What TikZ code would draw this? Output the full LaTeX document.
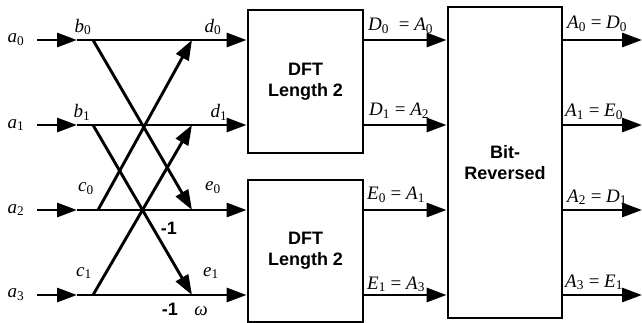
\documentclass[tikz,border=0pt]{standalone}
\usepackage{fontspec}
\setmainfont{Liberation Serif}
\newfontfamily\arialfont{Liberation Sans}
\usetikzlibrary{arrows.meta}
\newcommand{\vr}[2]{\textit{#1}\textsubscript{#2}}
\begin{document}
\begin{tikzpicture}[x=1pt,y=-1pt,
  wire/.style={line width=2.9pt},
  arr/.style={wire,-{Triangle[length=20pt,width=14pt]}},
  box/.style={draw,line width=2.9pt,inner sep=0pt,align=center,
    font=\arialfont\bfseries\fontsize{18}{21}\selectfont},
  lab/.style={font=\fontsize{19}{19}\selectfont,inner sep=0pt},
  blab/.style={font=\arialfont\bfseries\fontsize{18}{18}\selectfont,inner sep=0pt}]
\useasboundingbox (0,0) rectangle (642,323);
% boxes
\node[box,minimum width=115pt,minimum height=143pt] (dft1) at (305.5,81.5) {DFT\\Length 2};
\node[box,minimum width=115pt,minimum height=142pt] (dft2) at (305.5,251) {DFT\\Length 2};
\node[box,minimum width=114pt,minimum height=311pt] (bit) at (505,162.5) {Bit-\\Reversed};
% coordinates
\foreach \i/\y in {0/40,1/125,2/210,3/295} {
  \coordinate (s\i) at (37,\y);
  \coordinate (m\i) at (77,\y);
  \coordinate (r\i) at (642,\y);
}
\coordinate (b0) at (93,40);
\coordinate (b1) at (93,125);
\coordinate (c0) at (98,210);
\coordinate (c1) at (93,295);
\coordinate (d0) at (192,40);
\coordinate (d1) at (192,125);
\coordinate (e0) at (192,210);
\coordinate (e1) at (192,295);
% input lines
\foreach \i in {0,1} {
  \draw[arr] (s\i) -- (m\i);
  \draw[arr] (m\i) -- (s\i -| dft1.west);
}
\foreach \i in {2,3} {
  \draw[arr] (s\i) -- (m\i);
  \draw[arr] (m\i) -- (s\i -| dft2.west);
}
% butterfly diagonals
\draw[arr] (b0) -- (e0);
\draw[arr] (b1) -- (e1);
\draw[arr] (c0) -- (d0);
\draw[arr] (c1) -- (d1);
% DFT outputs
\draw[arr] (s0 -| dft1.east) -- (s0 -| bit.west);
\draw[arr] (s1 -| dft1.east) -- (s1 -| bit.west);
\draw[arr] (s2 -| dft2.east) -- (s2 -| bit.west);
\draw[arr] (s3 -| dft2.east) -- (s3 -| bit.west);
% bit-reversed outputs
\foreach \i in {0,1,2,3} {
  \draw[arr] (s\i -| bit.east) -- (r\i);
}
% labels
\node[lab] (la0) at (16,40) {\vr{a}{0}};
\node[lab] (la1) at (16,125) {\vr{a}{1}};
\node[lab] (la2) at (16,210) {\vr{a}{2}};
\node[lab] (la3) at (16,295) {\vr{a}{3}};
\node[lab] (lb0) at (83,27) {\vr{b}{0}};
\node[lab] (lb1) at (82,112) {\vr{b}{1}};
\node[lab] (lc0) at (86,189) {\vr{c}{0}};
\node[lab] (lc1) at (84,273) {\vr{c}{1}};
\node[lab] (ld0) at (213,27) {\vr{d}{0}};
\node[lab] (ld1) at (219,112) {\vr{d}{1}};
\node[lab] (le0) at (213,188) {\vr{e}{0}};
\node[lab] (le1) at (211,273) {\vr{e}{1}};
\node[blab] (m1a) at (169,228) {-1};
\node[blab] (m1b) at (170,309) {-1};
\node[lab,anchor=base] (w) at (201,315) {\textit{ω}};
\node[lab,anchor=base west] (o0) at (368,31) {\vr{D}{0}\hspace{5pt} = \vr{A}{0}};
\node[lab,anchor=base west] (o1) at (369,116) {\vr{D}{1} = \vr{A}{2}};
\node[lab,anchor=base west] (o2) at (367,200) {\vr{E}{0} = \vr{A}{1}};
\node[lab,anchor=base west] (o3) at (367,289) {\vr{E}{1} = \vr{A}{3}};
\node[lab,anchor=base west] (p0) at (567,29) {\vr{A}{0} = \vr{D}{0}};
\node[lab,anchor=base west] (p1) at (565,117) {\vr{A}{1} = \vr{E}{0}};
\node[lab,anchor=base west] (p2) at (567,202) {\vr{A}{2} = \vr{D}{1}};
\node[lab,anchor=base west] (p3) at (565,287) {\vr{A}{3} = \vr{E}{1}};
\end{tikzpicture}
\end{document}
